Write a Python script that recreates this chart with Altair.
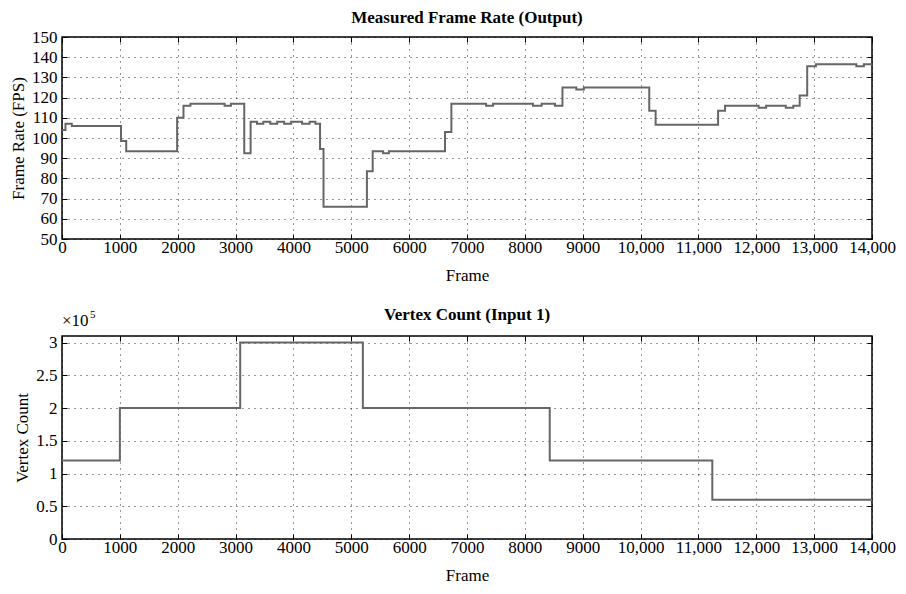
import altair as alt
import pandas as pd

# ---- data ----
fps_frames = [0, 60, 170, 1020, 1110, 1990, 2100, 2220, 2810, 2920,
              3150, 3260, 3370, 3480, 3600, 3720, 3840, 3960, 4150, 4280,
              4380, 4460, 4520, 5270, 5370, 5550, 5650, 6620, 6730, 7330,
              7450, 8140, 8290, 8520, 8650, 8890, 9020, 10150, 10260, 11340,
              11460, 12040, 12170, 12510, 12640, 12750, 12880, 13030, 13730, 13860,
              14000]
fps_values = [104, 107, 106, 98.5, 93.5, 110, 116, 117, 116, 117,
              92.5, 108, 107, 108, 107, 108, 107, 108, 107, 108,
              107, 94.5, 66, 83.5, 93.5, 92.5, 93.5, 103, 117, 116,
              117, 116, 117, 116, 125, 124, 125, 113.5, 106.5, 113.5,
              116, 115, 116, 115, 116, 121, 135.5, 136.5, 135.5, 136.5,
              136.5]

vc_frames = [0, 1000, 3080, 5200, 8430, 11240, 14000]
vc_values = [120000, 200000, 300000, 200000, 120000, 60000, 60000]

x_ticks = list(range(0, 14001, 1000))
fps_ticks = list(range(50, 151, 10))
vc_ticks = [0, 50000, 100000, 150000, 200000, 250000, 300000]

top_title = "Measured Frame Rate (Output)"
bottom_title = "Vertex Count (Input 1)"

FONT = "Liberation Serif"
LINE = "#666666"

x_label_expr = "datum.value >= 10000 ? format(datum.value, ',') : format(datum.value, 'd')"


def panel(df, ycol, ydomain, yticks, ytitle, title, height, title_offset,
          ylabel_expr=None, extra=None):
    xs = alt.Scale(domain=[0, 14000], nice=False, zero=False)
    ys = alt.Scale(domain=ydomain, nice=False, zero=False)
    base = alt.Chart(df)
    y_axis_kw = dict(values=yticks, title=ytitle, grid=True, ticks=False, domain=False,
                     labelPadding=5, titlePadding=4, gridDash=[1, 5], gridColor="black",
                     gridOpacity=0.8)
    if ylabel_expr:
        y_axis_kw["labelExpr"] = ylabel_expr
    main = base.mark_line(interpolate="step-after", color=LINE, strokeWidth=2).encode(
        x=alt.X("frame:Q", scale=xs,
                axis=alt.Axis(values=x_ticks, labelExpr=x_label_expr, title="Frame", grid=True,
                              ticks=False, domain=False, labelPadding=0, titlePadding=12,
                              gridDash=[1, 5], gridColor="black", gridOpacity=0.8,
                              labelOverlap=False, labelFlush=False)),
        y=alt.Y(f"{ycol}:Q", scale=ys, axis=alt.Axis(**y_axis_kw)),
    )
    tick_kw = dict(labels=False, title=None, offset=-5, tickSize=5, domain=False, grid=False,
                   tickColor="black", tickWidth=1)
    inner1 = base.mark_line(opacity=0).encode(
        x=alt.X("frame:Q", scale=xs, axis=alt.Axis(orient="bottom", values=x_ticks, **tick_kw)),
        y=alt.Y(f"{ycol}:Q", scale=ys, axis=alt.Axis(orient="left", values=yticks, **tick_kw)),
    )
    inner2 = base.mark_line(opacity=0).encode(
        x=alt.X("frame:Q", scale=xs, axis=alt.Axis(orient="top", values=x_ticks, **tick_kw)),
        y=alt.Y(f"{ycol}:Q", scale=ys, axis=alt.Axis(orient="right", values=yticks, **tick_kw)),
    )
    layers = [main, inner1, inner2]
    if extra is not None:
        layers += extra
    return alt.layer(*layers).resolve_axis(x="independent", y="independent").properties(
        width=810, height=height,
        title=alt.TitleParams(title, font=FONT, fontSize=17, fontWeight="bold", color="black",
                              anchor="middle", offset=title_offset, frame="group"),
    )


fps_df = pd.DataFrame({"frame": fps_frames, "fps": fps_values})
vc_df = pd.DataFrame({"frame": vc_frames, "vc": vc_values})

exp_main = alt.Chart(pd.DataFrame({"t": ["×10"]})).mark_text(
    font=FONT, fontSize=17, align="left", baseline="alphabetic", color="black"
).encode(x=alt.value(0), y=alt.value(-10), text="t:N")
exp_sup = alt.Chart(pd.DataFrame({"t": ["5"]})).mark_text(
    font=FONT, fontSize=11, align="left", baseline="alphabetic", color="black"
).encode(x=alt.value(28), y=alt.value(-18), text="t:N")

top = panel(fps_df, "fps", [50, 150], fps_ticks, "Frame Rate (FPS)", top_title, 202, 1)
bottom = panel(vc_df, "vc", [0, 310000], vc_ticks, "Vertex Count", bottom_title, 203, -15,
               ylabel_expr="format(datum.value / 100000, '~g')",
               extra=[exp_main, exp_sup])

chart = alt.vconcat(top, bottom, spacing=21).properties(
    padding=0, background="white"
).configure_view(
    stroke="black", strokeWidth=1.5
).configure_axis(
    labelFont=FONT, titleFont=FONT, labelFontSize=17, titleFontSize=17,
    labelColor="black", titleColor="black", titleFontWeight="normal"
)

chart.save("out.html", embed_options={"renderer": "svg", "actions": False})
